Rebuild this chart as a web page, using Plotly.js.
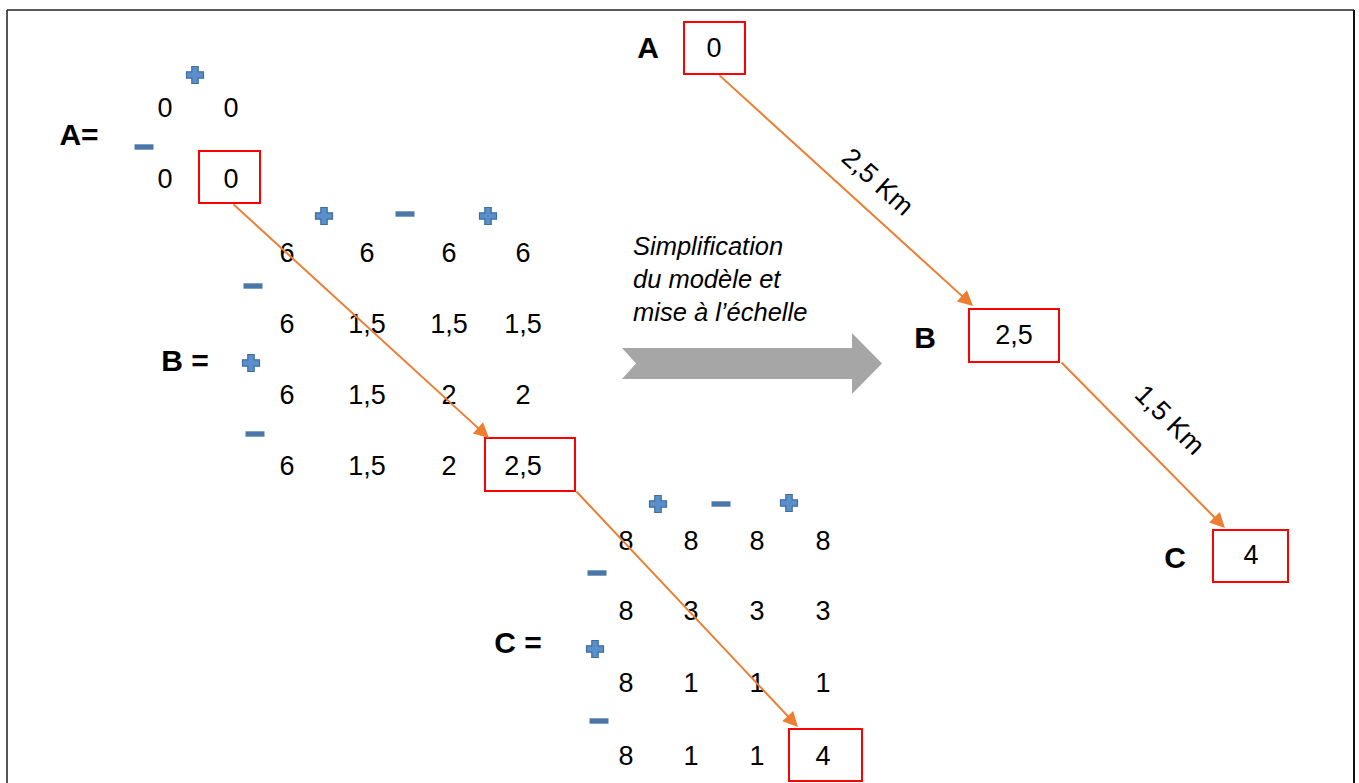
<!DOCTYPE html>
<html><head><meta charset="utf-8">
<script src="https://cdn.plot.ly/plotly-3.0.1.min.js"></script>
<style>html,body{margin:0;padding:0;background:#fff;overflow:hidden}#chart{width:1359px;height:783px}</style>
</head><body><div id="chart"></div>
<script>
// ---- values (text content) ----
const matA = [["0","0"],["0","0"]];
const matB = [["6","6","6","6"],["6","1,5","1,5","1,5"],["6","1,5","2","2"],["6","1,5","2","2,5"]];
const matC = [["8","8","8","8"],["8","3","3","3"],["8","1","1","1"],["8","1","1","4"]];
const matLabels = ["A=","B =","C ="];
const colSignsA = ["+"], rowSignsA = ["-"];
const colSignsB = ["+","-","+"], rowSignsB = ["-","+","-"];
const colSignsC = ["+","-","+"], rowSignsC = ["-","+","-"];
const nodeLabels = ["A","B","C"];
const nodeValues = ["0","2,5","4"];
const distances = ["2,5 Km","1,5 Km"];
const caption = ["Simplification","du modèle et","mise à l’échelle"];

// ---- layout geometry (pixel coordinates on the page) ----
const FONT = "Liberation Sans, Arial, sans-serif";
const grids = [
  {m: matA, cols:[165,231], rows:[110,181], colSigns: colSignsA, colSignPos:[[195,75]], rowSigns: rowSignsA, rowSignPos:[[144,147]], label:[79,137], box:[199,260,151,203]},
  {m: matB, cols:[287,367,449,523], rows:[255,326,397,468], colSigns: colSignsB, colSignPos:[[324,216],[405,214],[488,216]], rowSigns: rowSignsB, rowSignPos:[[253,286],[251,363],[255,434]], label:[185,363], box:[485,575,438,491]},
  {m: matC, cols:[626,691,757,823], rows:[543,613,685,758], colSigns: colSignsC, colSignPos:[[658,504],[721,504],[789,503]], rowSigns: rowSignsC, rowSignPos:[[597,573],[595,649],[599,721]], label:[518,645], box:[789,862,729,781]}
];
const nodes = [
  {label:[648,50], box:[684,745,22,74], val:[714,50]},
  {label:[925,340], box:[969,1059,309,362], val:[1014,337]},
  {label:[1175,560], box:[1213,1288,530,582], val:[1251,557]}
];
const leftArrows = [[232,203,489,438],[575,490,798,727]];
const rightArrows = [[718,74,973,306],[1060,361,1225,528]];
const distPos = [[878,182,42],[1170,420,45]];

const traces = [];
const shapes = [];
const annotations = [];

function plus(cx, cy){
  const s = 8.5, t = 3.2;
  return {type:'path', path:`M${cx-t},${cy-s} L${cx+t},${cy-s} L${cx+t},${cy-t} L${cx+s},${cy-t} L${cx+s},${cy+t} L${cx+t},${cy+t} L${cx+t},${cy+s} L${cx-t},${cy+s} L${cx-t},${cy+t} L${cx-s},${cy+t} L${cx-s},${cy-t} L${cx-t},${cy-t} Z`,
    fillcolor:'#5b8fcc', line:{color:'#3e6d9e', width:1.2}, xref:'x', yref:'y'};
}
function minus(cx, cy){
  return {type:'rect', x0:cx-9.5, x1:cx+9.5, y0:cy-2.7, y1:cy+2.7, fillcolor:'#4a77a8', line:{width:0}, xref:'x', yref:'y'};
}
function sign(s, p){ return s === '+' ? plus(p[0],p[1]) : minus(p[0],p[1]); }
function redBox(b){ return {type:'rect', x0:b[0], x1:b[1], y0:b[2], y1:b[3], line:{color:'#ff0000', width:2}, fillcolor:'rgba(0,0,0,0)', xref:'x', yref:'y'}; }

grids.forEach((g, gi) => {
  const xs = [], ys = [], tx = [];
  g.m.forEach((row, r) => row.forEach((v, c) => { xs.push(g.cols[c]); ys.push(g.rows[r]); tx.push(v); }));
  traces.push({type:'scatter', mode:'text', x:xs, y:ys, text:tx, textposition:'middle center',
    textfont:{family:FONT, size:27, color:'#000'}, hoverinfo:'skip', showlegend:false});
  traces.push({type:'scatter', mode:'text', x:[g.label[0]], y:[g.label[1]], text:[matLabels[gi]], textposition:'middle center',
    textfont:{family:FONT, size:30, color:'#000', weight:'bold'}, hoverinfo:'skip', showlegend:false});
  g.colSigns.forEach((s, i) => shapes.push(sign(s, g.colSignPos[i])));
  g.rowSigns.forEach((s, i) => shapes.push(sign(s, g.rowSignPos[i])));
  shapes.push(redBox(g.box));
});

nodes.forEach((n, i) => {
  shapes.push(redBox(n.box));
});
traces.push({type:'scatter', mode:'text', x:nodes.map(n=>n.label[0]), y:nodes.map(n=>n.label[1]), text:nodeLabels,
  textposition:'middle center', textfont:{family:FONT, size:30, color:'#000', weight:'bold'}, hoverinfo:'skip', showlegend:false});
traces.push({type:'scatter', mode:'text', x:nodes.map(n=>n.val[0]), y:nodes.map(n=>n.val[1]), text:nodeValues,
  textposition:'middle center', textfont:{family:FONT, size:27, color:'#000'}, hoverinfo:'skip', showlegend:false});

leftArrows.concat(rightArrows).forEach(a => {
  annotations.push({x:a[2], y:a[3], ax:a[0], ay:a[1], xref:'x', yref:'y', axref:'x', ayref:'y', text:'',
    showarrow:true, arrowhead:2, arrowsize:1.5, arrowwidth:2, arrowcolor:'#ed7d31', standoff:0, startstandoff:0});
});
distances.forEach((d, i) => {
  annotations.push({x:distPos[i][0], y:distPos[i][1], xref:'x', yref:'y', text:d, showarrow:false, textangle:distPos[i][2],
    font:{family:FONT, size:27, color:'#000'}});
});
annotations.push({x:631, y:279, xref:'x', yref:'y', xanchor:'left', yanchor:'middle', align:'left', showarrow:false,
  text:caption.join('<br>'), font:{family:FONT, size:25.5, color:'#000', style:'italic'}});

// big grey arrow
shapes.push({type:'path', path:'M622,348 L852,348 L852,333 L882,363.5 L852,394 L852,379 L622,379 L636,363.5 Z',
  fillcolor:'#a6a6a6', line:{width:0}, xref:'x', yref:'y', layer:'below'});

// frame
shapes.push({type:'line', x0:7, x1:7, y0:10, y1:783, line:{color:'#555', width:2}, xref:'x', yref:'y'});
shapes.push({type:'line', x0:7, x1:1354, y0:10, y1:10, line:{color:'#222', width:1.5}, xref:'x', yref:'y'});
shapes.push({type:'line', x0:1354, x1:1354, y0:10, y1:783, line:{color:'#111', width:2}, xref:'x', yref:'y'});

const layout = {
  width:1359, height:783, margin:{l:0,r:0,t:0,b:0},
  paper_bgcolor:'#fff', plot_bgcolor:'#fff', showlegend:false,
  xaxis:{range:[0,1359], visible:false, fixedrange:true},
  yaxis:{range:[783,0], visible:false, fixedrange:true},
  shapes: shapes, annotations: annotations, hovermode:false
};
Plotly.newPlot('chart', traces, layout, {displayModeBar:false, staticPlot:true});
</script>
</body></html>
